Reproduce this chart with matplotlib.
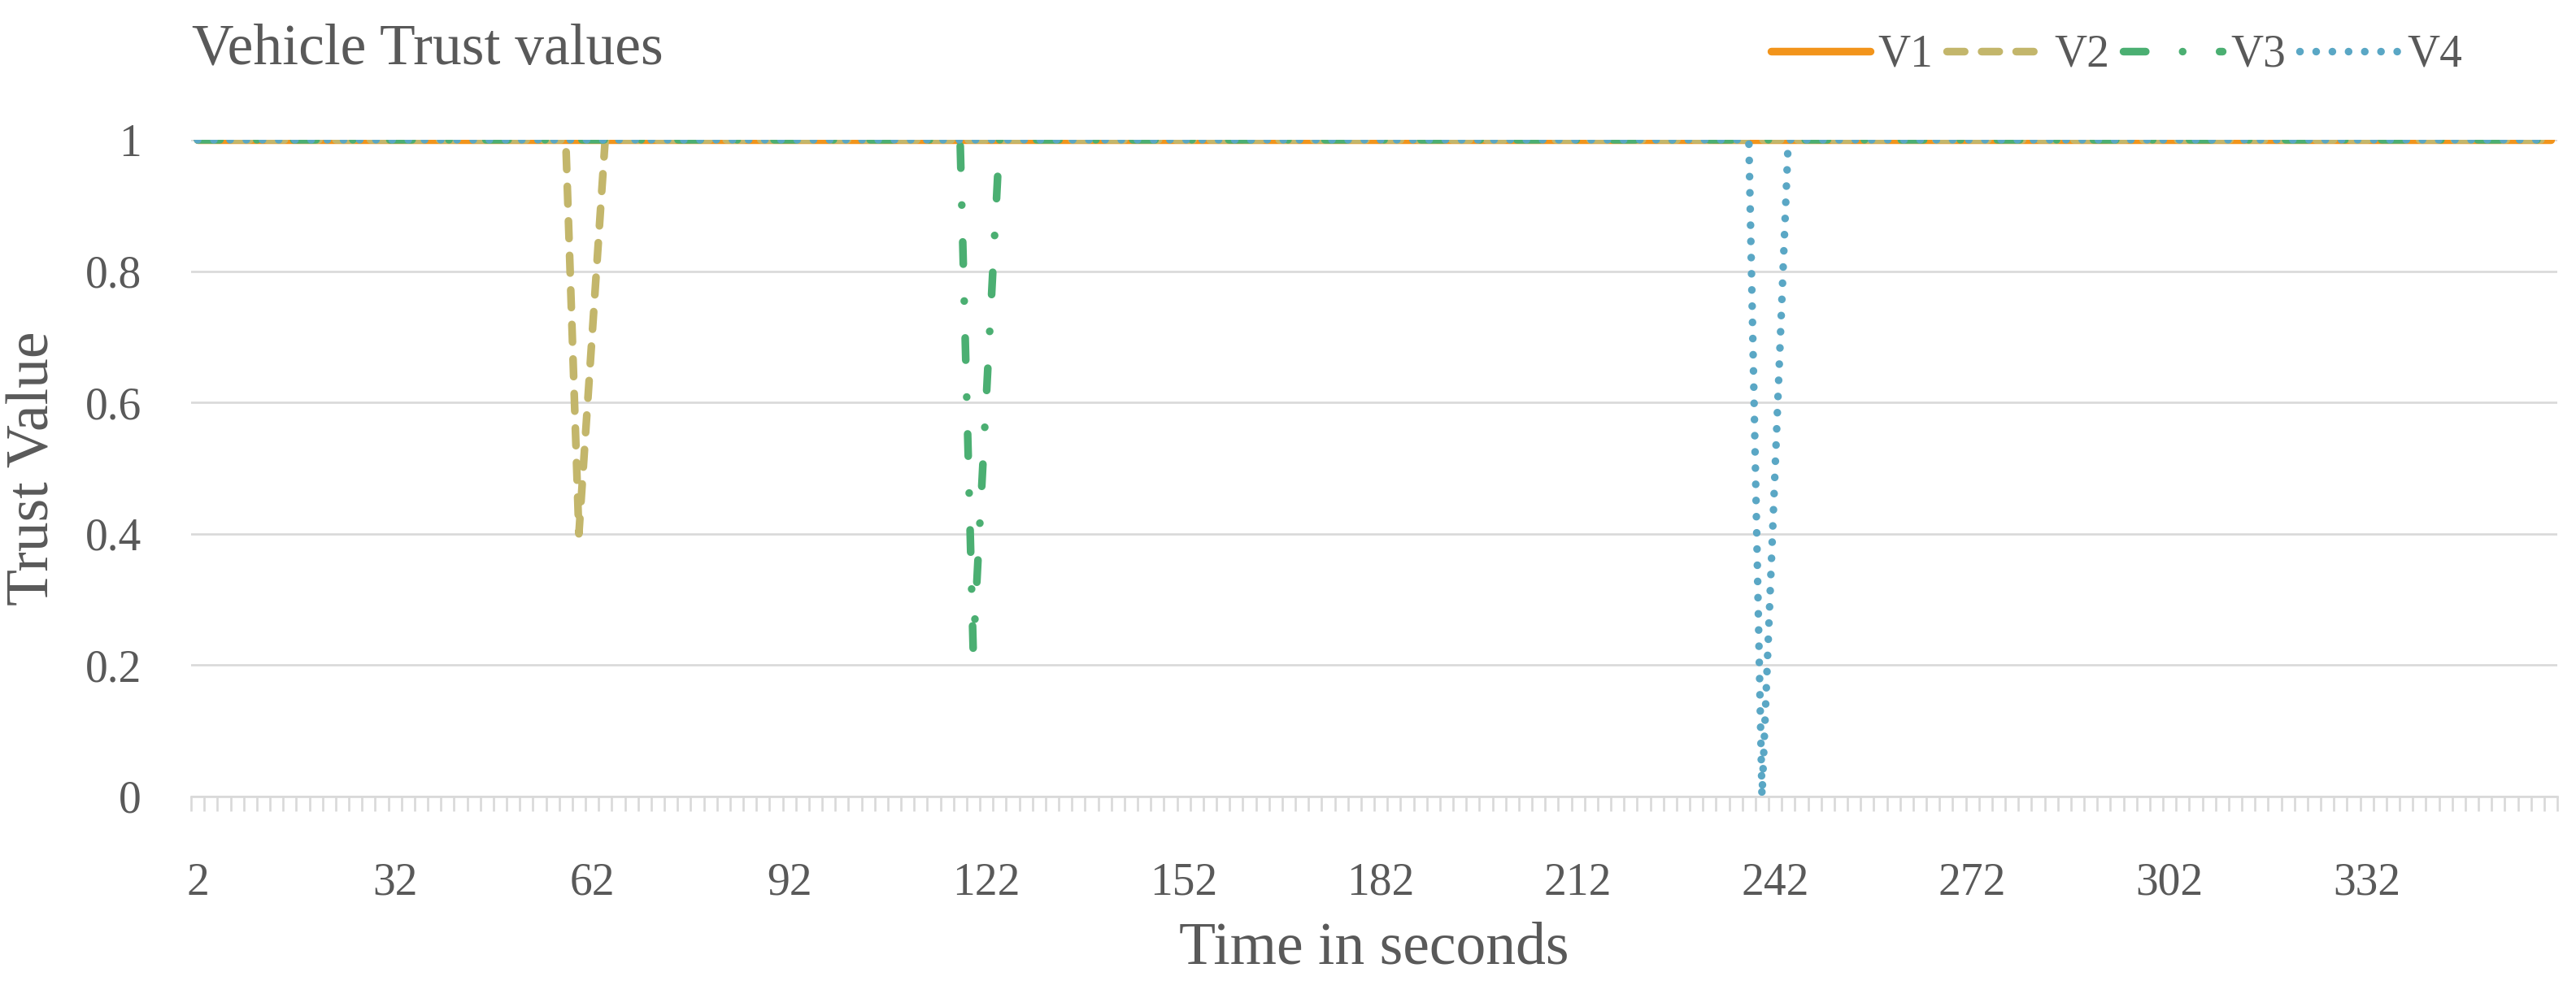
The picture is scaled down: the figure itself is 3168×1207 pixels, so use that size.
import numpy as np
import matplotlib
matplotlib.use("Agg")
import matplotlib.pyplot as plt
from matplotlib.lines import Line2D


# category axis: one sample every 2 seconds
times = list(range(2, 362, 2))
label_times = [2, 32, 62, 92, 122, 152, 182, 212, 242, 272, 302, 332]

y_ticks = [0, 0.2, 0.4, 0.6, 0.8, 1.0]
y_tick_labels = ["0", "0.2", "0.4", "0.6", "0.8", "1"]

series_names = ["V1", "V2", "V3", "V4"]
baseline_trust = 1.0

# every vehicle sits at 1 except for one short dip
v1_dip_times = []
v1_dip_vals = []
v2_dip_times = [58, 60, 62, 64]
v2_dip_vals = [1.0, 0.4, 0.7, 1.0]
v3_dip_times = [118, 120, 122, 124]
v3_dip_vals = [1.0, 0.22, 0.61, 1.0]
v4_dip_times = [238, 240, 242, 244]
v4_dip_vals = [1.0, 0.0, 0.5, 1.0]

colors = ["#F2941B", "#C3B66B", "#4BAF72", "#5AA7C5"]
TEXT_COLOR = "#595959"
GRID_COLOR = "#D9D9D9"
FONT = "Liberation Serif"

W, H = 3168, 1207
PLOT_L, PLOT_R, PLOT_T, PLOT_B = 235, 3145, 172, 980


def build_series(dip_times, dip_vals):
    vals = np.full(len(times), baseline_trust)
    for t, v in zip(dip_times, dip_vals):
        vals[times.index(t)] = v
    return vals


def main():
    plt.rcParams["font.family"] = [FONT, "DejaVu Serif"]
    fig = plt.figure(figsize=(W / 100, H / 100), dpi=100)
    ax = fig.add_axes([PLOT_L / W, 1 - PLOT_B / H, (PLOT_R - PLOT_L) / W, (PLOT_B - PLOT_T) / H])

    all_series = [
        build_series(v1_dip_times, v1_dip_vals),
        build_series(v2_dip_times, v2_dip_vals),
        build_series(v3_dip_times, v3_dip_vals),
        build_series(v4_dip_times, v4_dip_vals),
    ]
    styles = [
        "-",
        (0, (2.3, 2.2)),
        (0, (2.9, 4.8, 0.01, 4.8)),
        (0, (0.01, 2.1)),
    ]

    x = np.arange(len(times))
    for name, vals, col, ls in zip(series_names, all_series, colors, styles):
        ax.plot(x, vals, color=col, linestyle=ls, linewidth=6.8,
                solid_capstyle="round", dash_capstyle="round",
                solid_joinstyle="round", dash_joinstyle="round", label=name)

    ax.set_xlim(-0.5, len(times) - 0.5)
    ax.set_ylim(0, 1)

    # gridlines and axis
    ax.set_yticks(y_ticks)
    ax.set_yticklabels(y_tick_labels)
    ax.yaxis.grid(True, color=GRID_COLOR, linewidth=1.9)
    ax.set_axisbelow(True)
    for s in ["left", "right", "top"]:
        ax.spines[s].set_visible(False)
    ax.spines["bottom"].set_color(GRID_COLOR)
    ax.spines["bottom"].set_linewidth(1.9)

    label_pos = [times.index(t) for t in label_times]
    ax.set_xticks(label_pos)
    ax.set_xticklabels([str(t) for t in label_times])
    ax.set_xticks(np.arange(-0.5, len(times), 1.0), minor=True)
    ax.tick_params(axis="x", which="major", length=0, pad=58, labelsize=40, labelcolor=TEXT_COLOR)
    ax.tick_params(axis="x", which="minor", length=13, width=1.9, color=GRID_COLOR, direction="out")
    ax.tick_params(axis="y", length=0, pad=44, labelsize=40, labelcolor=TEXT_COLOR)

    fig.text(236 / W, 1 - 78 / H, "Vehicle Trust values", fontsize=51.5, color=TEXT_COLOR,
             ha="left", va="baseline")
    fig.text(42 / W, 1 - 576 / H, "Trust Value", fontsize=53, color=TEXT_COLOR,
             rotation=90, ha="center", va="center")
    fig.text(1690 / W, 1 - 1186 / H, "Time in seconds", fontsize=53, color=TEXT_COLOR,
             ha="center", va="baseline")

    leg_handles = [Line2D([0], [0], color=col, linestyle=ls, linewidth=6.8,
                          solid_capstyle="round", dash_capstyle="round")
                   for col, ls in zip(colors, styles)]
    leg = fig.legend(leg_handles, series_names, loc="center right",
                     bbox_to_anchor=(3028 / W, 1 - 68 / H), ncol=4, frameon=False,
                     fontsize=40, handlelength=2.2, handletextpad=0.18, columnspacing=0.3,
                     borderpad=0, borderaxespad=0)
    for txt in leg.get_texts():
        txt.set_color(TEXT_COLOR)

    fig.savefig("out.png", dpi=100)
    plt.close(fig)


if __name__ == '__main__':
    main()
